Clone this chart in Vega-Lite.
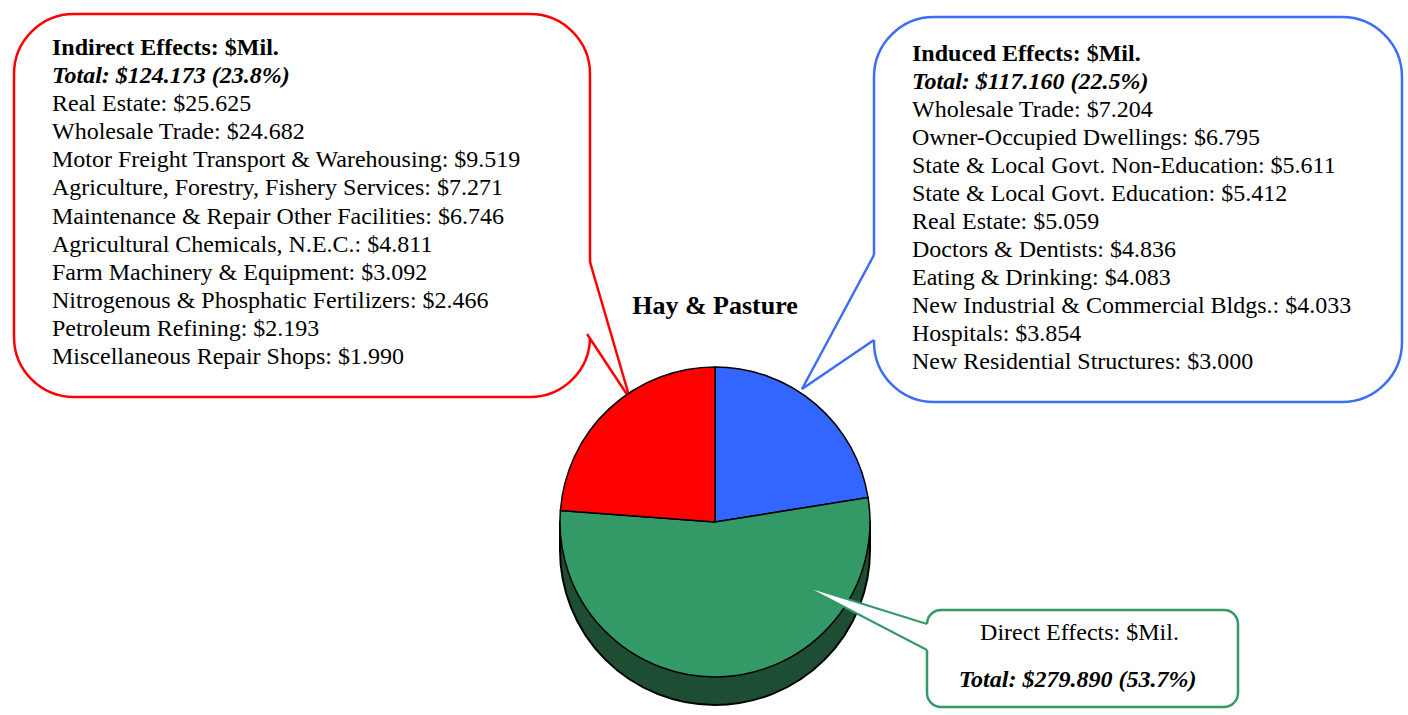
{
  "$schema": "https://vega.github.io/schema/vega-lite/v6.json",
  "background": "white",
  "padding": {"left": 12, "top": 12, "right": 0, "bottom": 0},
  "config": {
    "view": {"stroke": null},
    "font": "Liberation Serif",
    "text": {"font": "Liberation Serif", "fontSize": 24, "color": "#000000"}
  },
  "datasets": {
    "indirect": [
      {"rank": 0, "kind": "head", "text": "Indirect Effects: $Mil."},
      {"rank": 1, "kind": "total", "text": "Total: $124.173 (23.8%)"},
      {"rank": 2, "kind": "item", "text": "Real Estate: $25.625"},
      {"rank": 3, "kind": "item", "text": "Wholesale Trade: $24.682"},
      {"rank": 4, "kind": "item", "text": "Motor Freight Transport & Warehousing: $9.519"},
      {"rank": 5, "kind": "item", "text": "Agriculture, Forestry, Fishery Services: $7.271"},
      {"rank": 6, "kind": "item", "text": "Maintenance & Repair Other Facilities: $6.746"},
      {"rank": 7, "kind": "item", "text": "Agricultural Chemicals, N.E.C.: $4.811"},
      {"rank": 8, "kind": "item", "text": "Farm Machinery & Equipment: $3.092"},
      {"rank": 9, "kind": "item", "text": "Nitrogenous & Phosphatic Fertilizers: $2.466"},
      {"rank": 10, "kind": "item", "text": "Petroleum Refining: $2.193"},
      {"rank": 11, "kind": "item", "text": "Miscellaneous Repair Shops: $1.990"}
    ],
    "induced": [
      {"rank": 0, "kind": "head", "text": "Induced Effects: $Mil."},
      {"rank": 1, "kind": "total", "text": "Total: $117.160 (22.5%)"},
      {"rank": 2, "kind": "item", "text": "Wholesale Trade: $7.204"},
      {"rank": 3, "kind": "item", "text": "Owner-Occupied Dwellings: $6.795"},
      {"rank": 4, "kind": "item", "text": "State & Local Govt. Non-Education: $5.611"},
      {"rank": 5, "kind": "item", "text": "State & Local Govt. Education: $5.412"},
      {"rank": 6, "kind": "item", "text": "Real Estate: $5.059"},
      {"rank": 7, "kind": "item", "text": "Doctors & Dentists: $4.836"},
      {"rank": 8, "kind": "item", "text": "Eating & Drinking: $4.083"},
      {"rank": 9, "kind": "item", "text": "New Industrial & Commercial Bldgs.: $4.033"},
      {"rank": 10, "kind": "item", "text": "Hospitals: $3.854"},
      {"rank": 11, "kind": "item", "text": "New Residential Structures: $3.000"}
    ],
    "direct": [
      {"rank": 0, "kind": "head", "text": "Direct Effects: $Mil."},
      {"rank": 1, "kind": "total", "text": "Total: $279.890 (53.7%)"}
    ],
    "pie": [
      {"effect": "Induced", "value": 117.160, "order": 1},
      {"effect": "Direct", "value": 279.890, "order": 2},
      {"effect": "Indirect", "value": 124.173, "order": 3}
    ],
    "title": [{"text": "Hay & Pasture"}],
    "blank": [{}]
  },
  "bounds": "flush",
  "spacing": 0,
  "hconcat": [
    {
      "width": 576,
      "height": 383,
      "view": {"stroke": "#FF0000", "strokeWidth": 2.5, "cornerRadius": 60, "fill": "white"},
      "data": {"name": "indirect"},
      "layer": [
        {
          "transform": [{"filter": "datum.kind == 'item'"}],
          "mark": {"type": "text", "align": "left", "baseline": "middle", "fontSize": 24},
          "encoding": {
            "x": {"value": 38},
            "y": {"field": "rank", "type": "quantitative", "axis": null, "scale": {"domain": [-1.21, 12.42], "reverse": true, "zero": false, "nice": false}},
            "text": {"field": "text"}
          }
        },
        {
          "transform": [{"filter": "datum.kind == 'head'"}],
          "mark": {"type": "text", "align": "left", "baseline": "middle", "fontSize": 24, "fontWeight": "bold"},
          "encoding": {
            "x": {"value": 38},
            "y": {"field": "rank", "type": "quantitative", "axis": null, "scale": {"domain": [-1.21, 12.42], "reverse": true, "zero": false, "nice": false}},
            "text": {"field": "text"}
          }
        },
        {
          "transform": [{"filter": "datum.kind == 'total'"}],
          "mark": {"type": "text", "align": "left", "baseline": "middle", "fontSize": 24, "fontWeight": "bold", "fontStyle": "italic"},
          "encoding": {
            "x": {"value": 38},
            "y": {"field": "rank", "type": "quantitative", "axis": null, "scale": {"domain": [-1.21, 12.42], "reverse": true, "zero": false, "nice": false}},
            "text": {"field": "text"}
          }
        },
        {
          "data": {"name": "blank"},
          "mark": {"type": "point", "shape": "M 288 56.5 L 328 193.5 L 285 128.5 L 280 128.5 L 280 56.5 Z", "size": 4, "filled": true, "fill": "white", "strokeWidth": 0, "opacity": 1},
          "encoding": {}
        },
        {
          "data": {"name": "blank"},
          "mark": {"type": "point", "shape": "M 288 56.5 L 328 193.5 L 285 128.5", "size": 4, "filled": false, "stroke": "#FF0000", "strokeWidth": 2.5, "strokeJoin": "miter", "opacity": 1},
          "encoding": {}
        }
      ]
    },
    {
      "width": 250,
      "height": 583,
      "layer": [
        {
          "data": {"name": "title"},
          "mark": {"type": "text", "align": "center", "baseline": "middle", "fontSize": 26, "fontWeight": "bold"},
          "encoding": {"text": {"field": "text"}}
        },
        {
          "data": {"name": "blank"},
          "mark": {"type": "rect", "fill": "#1D4D33", "stroke": "#000000", "strokeWidth": 2},
          "encoding": {
            "x": {"datum": -1, "type": "quantitative", "axis": null, "scale": {"domain": [-0.8065, 0.8065], "zero": false, "nice": false}},
            "x2": {"datum": 1},
            "y": {"datum": 0, "type": "quantitative", "axis": null, "scale": {"domain": [-18.143, 2.679], "reverse": true, "zero": false, "nice": false}},
            "y2": {"datum": 1}
          }
        },
        {
          "data": {"name": "blank"},
          "mark": {"type": "arc", "radius": 155, "theta": 0, "theta2": 6.2832, "fill": "#1D4D33", "stroke": "#000000", "strokeWidth": 2},
          "encoding": {
            "x": {"datum": 0, "type": "quantitative", "axis": null, "scale": {"domain": [-0.8065, 0.8065], "zero": false, "nice": false}},
            "y": {"datum": 1, "type": "quantitative", "axis": null, "scale": {"domain": [-18.143, 2.679], "reverse": true, "zero": false, "nice": false}}
          }
        },
        {
          "data": {"name": "pie"},
          "mark": {"type": "arc", "radius": 155, "stroke": "#000000", "strokeWidth": 1.5},
          "encoding": {
            "x": {"datum": 0, "type": "quantitative", "axis": null, "scale": {"domain": [-0.8065, 0.8065], "zero": false, "nice": false}},
            "y": {"datum": 0, "type": "quantitative", "axis": null, "scale": {"domain": [-18.143, 2.679], "reverse": true, "zero": false, "nice": false}},
            "theta": {"field": "value", "type": "quantitative", "stack": true},
            "order": {"field": "order", "type": "quantitative"},
            "color": {
              "field": "effect",
              "type": "nominal",
              "legend": null,
              "scale": {"domain": ["Induced", "Direct", "Indirect"], "range": ["#3366FF", "#339966", "#FF0000"]}
            }
          }
        }
      ]
    },
    {
      "width": 34,
      "height": 10,
      "data": {"values": []},
      "mark": "point",
      "encoding": {}
    },
    {
      "bounds": "flush",
      "spacing": 0,
      "vconcat": [
        {
          "width": 528,
          "height": 3,
          "data": {"values": []},
          "mark": "point",
          "encoding": {}
        },
        {
          "width": 528,
          "height": 385,
          "view": {"stroke": "#3D6DF5", "strokeWidth": 2.5, "cornerRadius": 60, "fill": "white"},
          "data": {"name": "induced"},
          "layer": [
            {
              "transform": [{"filter": "datum.kind == 'item'"}],
              "mark": {"type": "text", "align": "left", "baseline": "middle", "fontSize": 24},
              "encoding": {
                "x": {"value": 38},
                "y": {"field": "rank", "type": "quantitative", "axis": null, "scale": {"domain": [-1.32, 12.43], "reverse": true, "zero": false, "nice": false}},
                "text": {"field": "text"}
              }
            },
            {
              "transform": [{"filter": "datum.kind == 'head'"}],
              "mark": {"type": "text", "align": "left", "baseline": "middle", "fontSize": 24, "fontWeight": "bold"},
              "encoding": {
                "x": {"value": 38},
                "y": {"field": "rank", "type": "quantitative", "axis": null, "scale": {"domain": [-1.32, 12.43], "reverse": true, "zero": false, "nice": false}},
                "text": {"field": "text"}
              }
            },
            {
              "transform": [{"filter": "datum.kind == 'total'"}],
              "mark": {"type": "text", "align": "left", "baseline": "middle", "fontSize": 24, "fontWeight": "bold", "fontStyle": "italic"},
              "encoding": {
                "x": {"value": 38},
                "y": {"field": "rank", "type": "quantitative", "axis": null, "scale": {"domain": [-1.32, 12.43], "reverse": true, "zero": false, "nice": false}},
                "text": {"field": "text"}
              }
            },
            {
              "data": {"name": "blank"},
              "mark": {"type": "point", "shape": "M -264 45.5 L -336 179.5 L -264 130.5 L -258 130.5 L -258 45.5 Z", "size": 4, "filled": true, "fill": "white", "strokeWidth": 0, "opacity": 1},
              "encoding": {}
            },
            {
              "data": {"name": "blank"},
              "mark": {"type": "point", "shape": "M -264 45.5 L -336 179.5 L -264 130.5", "size": 4, "filled": false, "stroke": "#3D6DF5", "strokeWidth": 2.5, "strokeJoin": "miter", "opacity": 1},
              "encoding": {}
            }
          ]
        },
        {
          "width": 528,
          "height": 208,
          "data": {"values": []},
          "mark": "point",
          "encoding": {}
        },
        {
          "bounds": "flush",
          "spacing": 0,
          "hconcat": [
            {
              "width": 53,
              "height": 97,
              "data": {"values": []},
              "mark": "point",
              "encoding": {}
            },
            {
              "width": 311,
              "height": 97,
              "view": {"stroke": "#339966", "strokeWidth": 2.5, "cornerRadius": 14, "fill": "white"},
              "data": {"name": "direct"},
              "layer": [
                {
                  "data": {"name": "blank"},
                  "mark": {"type": "point", "shape": "M -155.5 -34.5 L -280.5 -73.5 L -155.5 -8.5 L -150 -8.5 L -150 -34.5 Z", "size": 4, "filled": true, "fill": "white", "strokeWidth": 0, "opacity": 1},
                  "encoding": {}
                },
                {
                  "data": {"name": "blank"},
                  "mark": {"type": "point", "shape": "M -155.5 -34.5 L -280.5 -73.5 L -155.5 -8.5", "size": 4, "filled": false, "stroke": "#339966", "strokeWidth": 2, "strokeJoin": "miter", "opacity": 1},
                  "encoding": {}
                },
                {
                  "transform": [{"filter": "datum.kind == 'head'"}],
                  "mark": {"type": "text", "align": "center", "baseline": "middle", "fontSize": 24, "dx": -3},
                  "encoding": {
                    "y": {"field": "rank", "type": "quantitative", "axis": null, "scale": {"domain": [-0.505, 1.58], "reverse": true, "zero": false, "nice": false}},
                    "text": {"field": "text"}
                  }
                },
                {
                  "transform": [{"filter": "datum.kind == 'total'"}],
                  "mark": {"type": "text", "align": "center", "baseline": "middle", "fontSize": 24, "fontWeight": "bold", "fontStyle": "italic", "dx": -5},
                  "encoding": {
                    "y": {"field": "rank", "type": "quantitative", "axis": null, "scale": {"domain": [-0.505, 1.58], "reverse": true, "zero": false, "nice": false}},
                    "text": {"field": "text"}
                  }
                }
              ]
            }
          ]
        }
      ]
    }
  ]
}
